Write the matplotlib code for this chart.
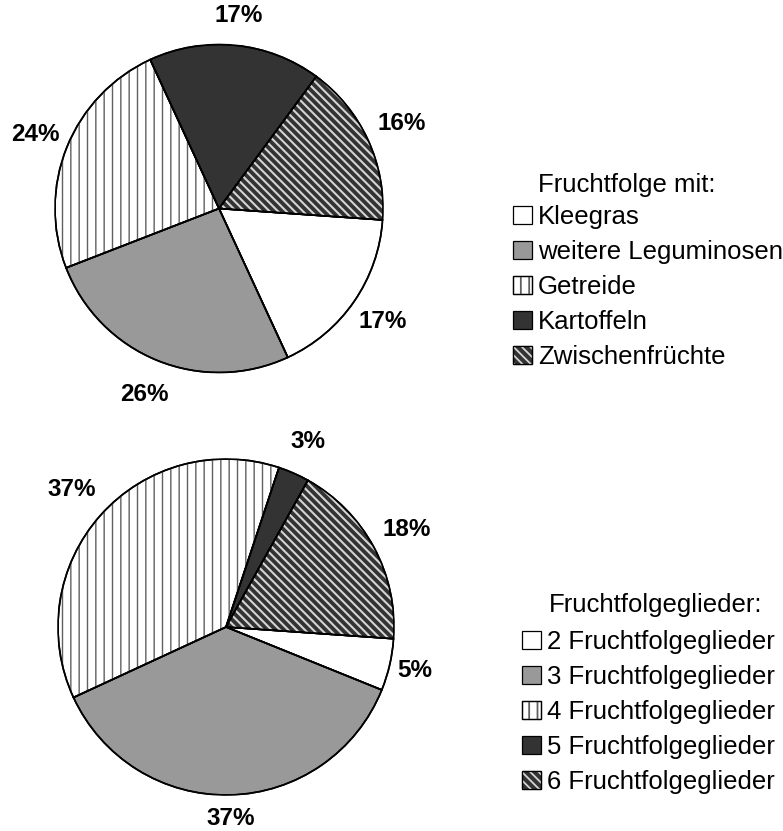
import matplotlib
matplotlib.use("Agg")
import numpy as np
import matplotlib.pyplot as plt
from matplotlib.patches import Wedge, Patch
from matplotlib.legend_handler import HandlerTuple

plt.rcParams['font.family'] = ['Liberation Sans', 'DejaVu Sans']
plt.rcParams['hatch.linewidth'] = 1.3

# ---- data ----
top_title = "Fruchtfolge mit:"
top_labels = ["Kleegras", "weitere Leguminosen", "Getreide", "Kartoffeln", "Zwischenfrüchte"]
top_values = [17, 26, 24, 17, 16]

bot_title = "Fruchtfolgeglieder:"
bot_labels = ["2 Fruchtfolgeglieder", "3 Fruchtfolgeglieder", "4 Fruchtfolgeglieder",
              "5 Fruchtfolgeglieder", "6 Fruchtfolgeglieder"]
bot_values = [5, 37, 37, 3, 18]

# ---- styles (face, hatch, hatch colour, hatch linewidth) ----
styles = [
    ("#ffffff", None, None, None),
    ("#999999", None, None, None),
    ("#ffffff", "||", "#606060", 1.0),
    ("#333333", None, None, None),
    ("#333333", "\\\\\\\\", "#d4d4d4", 1.5),
]
# label distances (in pie radii), per wedge, mimicking the reference placement
top_ldist = [1.21, 1.22, 1.21, 1.18, 1.23]
bot_ldist = [1.155, 1.14, 1.23, 1.21, 1.22]

fig = plt.figure(figsize=(7.83, 8.31), dpi=100)
W, H = 783, 831


def make_axes(cx, cy, r):
    return fig.add_axes([(cx - r) / W, (H - cy - r) / H, 2 * r / W, 2 * r / H])


def hatch_patch(p, hlw):
    if hasattr(p, "set_hatch_linewidth"):
        p.set_hatch_linewidth(hlw)
    return p


def overlay(ax, w, hatch, hcol, hlw, lw=1.2):
    if hatch:
        hw = Wedge(w.center, w.r, w.theta1, w.theta2, facecolor='none',
                   edgecolor=hcol, linewidth=0, hatch=hatch, zorder=3)
        ax.add_patch(hatch_patch(hw, hlw))
    ow = Wedge(w.center, w.r, w.theta1, w.theta2, facecolor='none',
               edgecolor='black', linewidth=lw, zorder=4)
    ax.add_patch(ow)


def draw_pie(ax, values, ldist):
    wedges, texts = ax.pie(values, labels=[f"{v}%" for v in values],
                           startangle=-4, counterclock=False,
                           colors=[s[0] for s in styles],
                           labeldistance=1.2,
                           wedgeprops=dict(edgecolor='black', linewidth=1.2),
                           textprops=dict(fontsize=17.5, fontweight='bold',
                                          ha='center', va='center'))
    for w, t, d in zip(wedges, texts, ldist):
        a = np.deg2rad((w.theta1 + w.theta2) / 2)
        t.set_position((d * np.cos(a), d * np.sin(a)))
        t.set_ha('center')
        t.set_va('center')
    for w, (face, hatch, hcol, hlw) in zip(wedges, styles):
        overlay(ax, w, hatch, hcol, hlw)
    ax.set_xlim(-1, 1)
    ax.set_ylim(-1, 1)
    ax.set_aspect('equal')
    ax.axis('off')


def legend_handles():
    hs = []
    for face, hatch, hcol, hlw in styles:
        base = Patch(facecolor=face, edgecolor='black', linewidth=0.9)
        if hatch:
            hp = hatch_patch(Patch(facecolor='none', edgecolor=hcol, linewidth=0,
                                   hatch=hatch), hlw)
            edge = Patch(facecolor='none', edgecolor='black', linewidth=0.9)
            hs.append((base, hp, edge))
        else:
            hs.append(base)
    return hs


ax1 = make_axes(219, 208.5, 164)
draw_pie(ax1, top_values, top_ldist)
ax2 = make_axes(226, 627, 168)
draw_pie(ax2, bot_values, bot_ldist)

common = dict(frameon=False, fontsize=18.5, handlelength=0.72, handleheight=0.72,
              handletextpad=0.25, labelspacing=0.425, borderpad=0, borderaxespad=0,
              loc='upper left', handler_map={tuple: HandlerTuple(ndivide=1, pad=0)})

fig.legend(legend_handles(), top_labels, bbox_to_anchor=(513 / W, 1 - 205 / H), **common)
fig.legend(legend_handles(), bot_labels, bbox_to_anchor=(522 / W, 1 - 630 / H), **common)

fig.text(627 / W, 1 - 185 / H, top_title, fontsize=18.5, ha='center', va='center')
fig.text(656 / W, 1 - 605 / H, bot_title, fontsize=18.5, ha='center', va='center')

fig.savefig("out.png", dpi=100, facecolor='white')
